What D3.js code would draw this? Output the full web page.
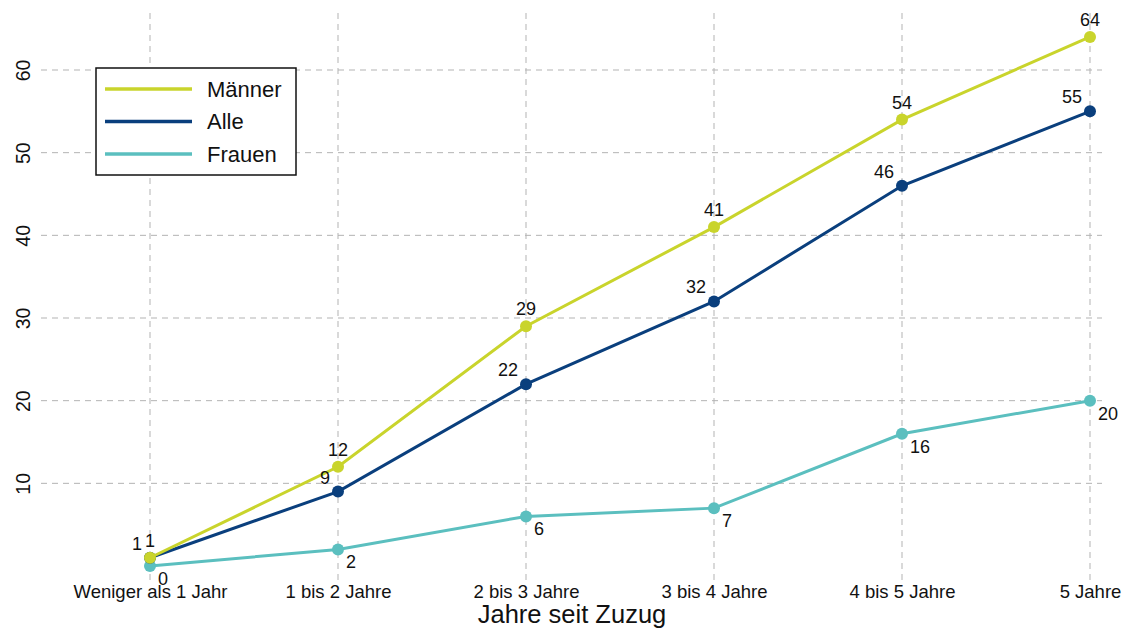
<!DOCTYPE html>
<html><head><meta charset="utf-8">
<script src="https://cdn.jsdelivr.net/npm/d3@7"></script>
<style>body{margin:0;background:#fff}svg{display:block;font-family:Arial,"Liberation Sans",sans-serif}</style>
</head><body><svg id="c" width="1126" height="628"></svg>
<script>
const categories = ["Weniger als 1 Jahr","1 bis 2 Jahre","2 bis 3 Jahre","3 bis 4 Jahre","4 bis 5 Jahre","5 Jahre"];
const maenner = [1,12,29,41,54,64];
const alle = [1,9,22,32,46,55];
const frauen = [0,2,6,7,16,20];
const yTicks = [10,20,30,40,50,60];
const xTitle = "Jahre seit Zuzug";

const series = [
  {name:"Männer", values:maenner, color:"#c9d42c", pos:"above"},
  {name:"Alle", values:alle, color:"#0a3f7d", pos:"aboveleft"},
  {name:"Frauen", values:frauen, color:"#5bbfbf", pos:"belowright"}
];

const svg = d3.select("#c");
const x = d3.scalePoint().domain(categories).range([150,1090]);
const y = d3.scaleLinear().domain([0,60]).range([566,70]);

// grid
const grid = svg.append("g").attr("stroke","#b3b3b3").attr("stroke-width",1).attr("stroke-dasharray","6,5");
grid.selectAll("line.h").data(yTicks).join("line")
  .attr("x1",41).attr("x2",1102).attr("y1",d=>y(d)).attr("y2",d=>y(d));
grid.selectAll("line.v").data(categories).join("line")
  .attr("x1",d=>x(d)).attr("x2",d=>x(d)).attr("y1",13).attr("y2",581);

// y axis labels rotated
const yAxis = svg.append("g").attr("transform","translate(23,0)")
  .call(d3.axisLeft(y).tickValues(yTicks).tickSize(0).tickPadding(0));
yAxis.attr("font-family",null);
yAxis.select(".domain").remove();
yAxis.selectAll("text").attr("font-size",19.5).attr("fill","#111")
  .attr("text-anchor","middle").attr("x",0).attr("y",0).attr("dy","0.35em")
  .attr("transform","rotate(-90)");

// x axis labels
const xAxis = svg.append("g").attr("transform","translate(0,598)")
  .call(d3.axisBottom(x).tickSize(0).tickPadding(0));
xAxis.attr("font-family",null);
xAxis.select(".domain").remove();
xAxis.selectAll("text").attr("font-size",18.5).attr("fill","#111").attr("y",0).attr("dy",0);
svg.append("text").attr("x",572).attr("y",623).attr("text-anchor","middle")
  .attr("font-size",25.5).attr("fill","#111").text(xTitle);

const line = d3.line().x((d,i)=>x(categories[i])).y(d=>y(d));
[series[2],series[1],series[0]].forEach(s=>{
  const g = svg.append("g");
  g.append("path").datum(s.values).attr("d",line).attr("fill","none")
    .attr("stroke",s.color).attr("stroke-width",3);
  g.selectAll("circle").data(s.values).join("circle")
    .attr("cx",(d,i)=>x(categories[i])).attr("cy",d=>y(d)).attr("r",6).attr("fill",s.color);
});
// labels
series.forEach(s=>{
  svg.append("g").selectAll("text").data(s.values).join("text")
    .attr("font-size",18).attr("fill","#111")
    .attr("x",(d,i)=>{
      const cx=x(categories[i]);
      if(s.pos==="above") return cx;
      if(s.pos==="aboveleft") return cx-8;
      return cx+8;
    })
    .attr("y",d=>{
      const cy=y(d);
      if(s.pos==="above") return cy-11;
      if(s.pos==="aboveleft") return cy-8;
      return cy+19;
    })
    .attr("text-anchor",(d,i)=>{
      if(s.pos==="above") return i===0?"start":"middle";
      if(s.pos==="aboveleft") return "end";
      return "start";
    })
    .attr("dx",(d,i)=>s.pos==="above"&&i===0?-5:0)
    .text(d=>d);
});

// legend
const lg = svg.append("g");
lg.append("rect").attr("x",96).attr("y",68).attr("width",200).attr("height",107)
  .attr("fill","#fff").attr("stroke","#111").attr("stroke-width",1.5);
series.forEach((s,i)=>{
  const yy = 89 + i*32.5;
  lg.append("line").attr("x1",105).attr("x2",192).attr("y1",yy).attr("y2",yy)
    .attr("stroke",s.color).attr("stroke-width",3.5);
  lg.append("text").attr("x",207).attr("y",yy).attr("dy","0.36em")
    .attr("font-size",22).attr("fill","#111").text(s.name);
});
</script></body></html>
